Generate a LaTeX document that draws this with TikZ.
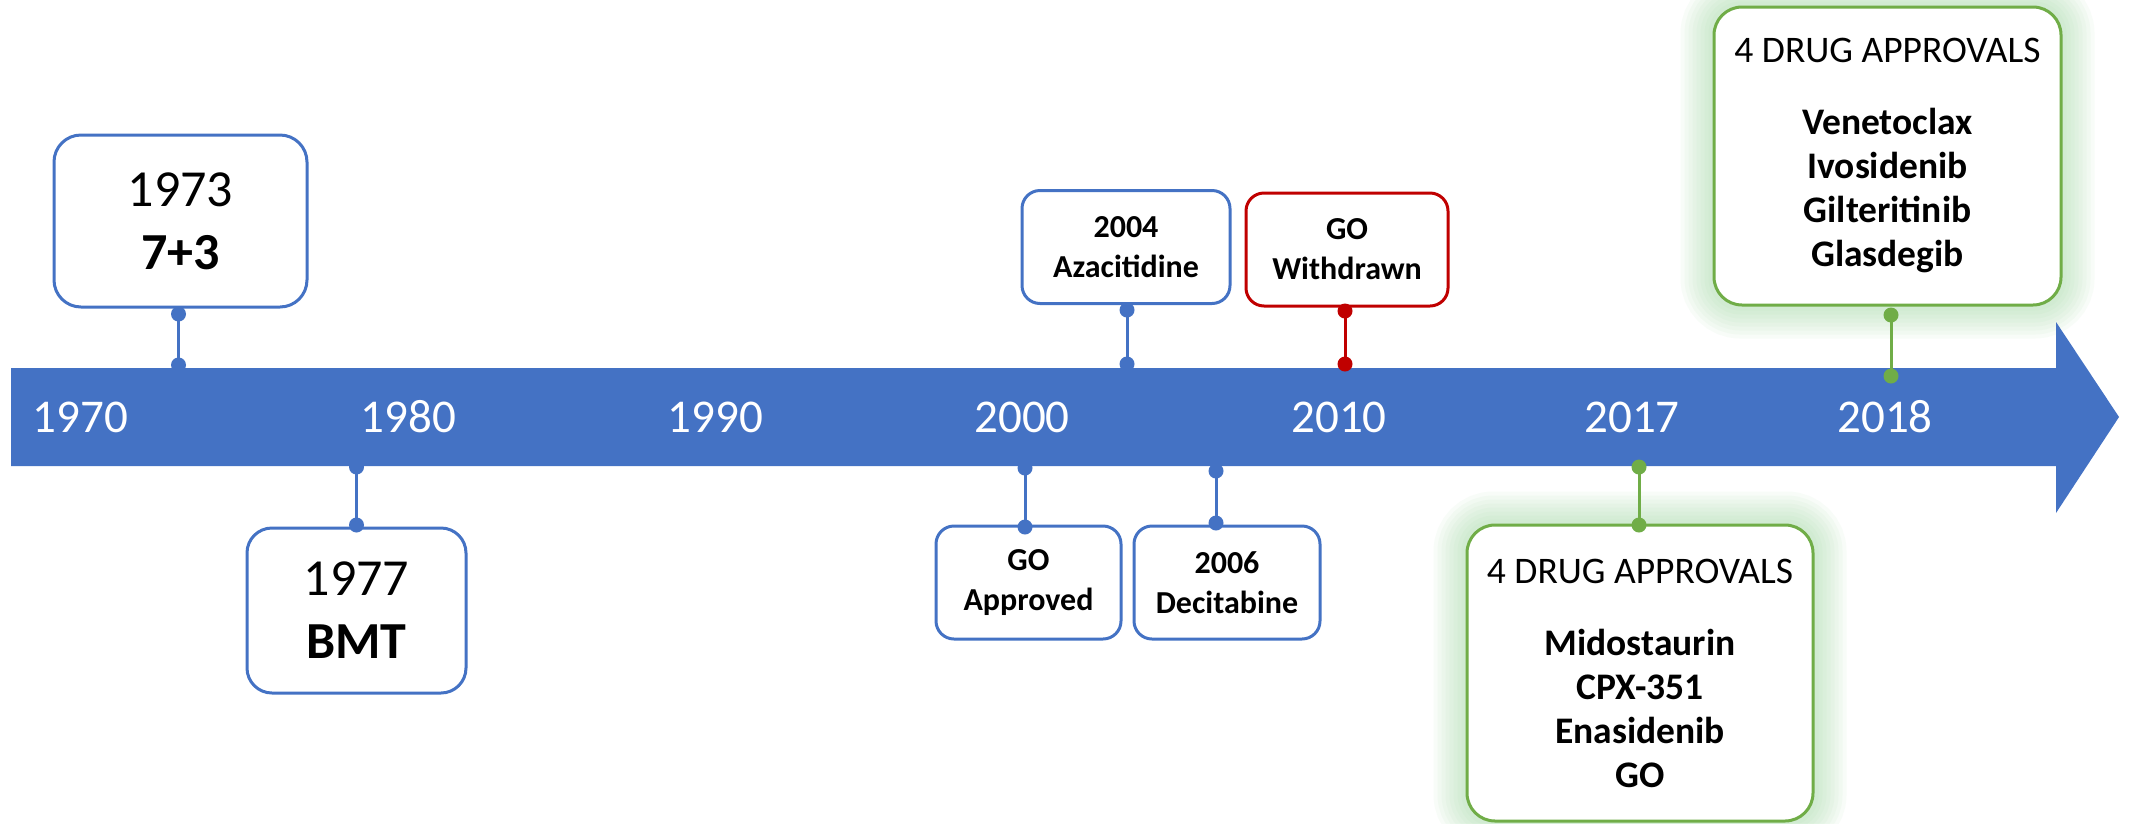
\documentclass[tikz,border=0pt]{standalone}
\usepackage{fontspec}
\setmainfont{Carlito}
\usetikzlibrary{backgrounds}
\definecolor{oblue}{HTML}{4472C4}
\definecolor{ored}{HTML}{C00000}
\definecolor{ogreen}{HTML}{70AD47}
\definecolor{glowc}{HTML}{9ED8A0}
\tikzset{
  evbox/.style={draw=oblue, line width=3pt, fill=white, rounded corners=#1, align=center, inner sep=0pt},
  bigtxt/.style={font=\fontsize{52}{63}\selectfont},
  smalltxt/.style={font=\bfseries\fontsize{32}{40}\selectfont},
  greentxt/.style={font=\fontsize{37.5}{44}\selectfont},
  yearlbl/.style={text=white, font=\fontsize{47}{56}\selectfont, inner sep=0pt},
  dotn/.style={circle, fill=#1, inner sep=0pt, minimum size=15pt},
  link/.style={draw=#1, line width=3pt},
}
\begin{document}
\begin{tikzpicture}[x=1pt, y=-1pt]
\useasboundingbox (0,0) rectangle (2131,823);
% timeline band
\fill[oblue] (11,368) -- (2056,368) -- (2056,322) -- (2119,417) -- (2056,513) -- (2056,466) -- (11,466) -- cycle;
% year labels
\node[yearlbl] (y1970) at (80.5,417) {1970};
\node[yearlbl] (y1980) at (408.5,417) {1980};
\node[yearlbl] (y1990) at (715.5,417) {1990};
\node[yearlbl] (y2000) at (1022,417) {2000};
\node[yearlbl] (y2010) at (1339,417) {2010};
\node[yearlbl] (y2017) at (1632,417) {2017};
\node[yearlbl] (y2018) at (1885,417) {2018};
% event boxes
\node[evbox=27pt, bigtxt, minimum width=253pt, minimum height=172pt] (b1973) at (180.5,221) {1973\\\textbf{7+3}};
\node[evbox=25pt, bigtxt, minimum width=219pt, minimum height=165pt] (b1977) at (356.5,610.5) {1977\\\textbf{BMT}};
\node[evbox=18pt, smalltxt, minimum width=208pt, minimum height=113pt] (b2004) at (1126,247) {2004\\Azacitidine};
\node[evbox=18pt, draw=ored, smalltxt, minimum width=202pt, minimum height=113pt] (bwd) at (1347,249.5) {GO\\Withdrawn};
\node[evbox=18pt, smalltxt, minimum width=185pt, minimum height=113pt] (bap) at (1028.5,582.5) {GO\\Approved};
\node[evbox=18pt, smalltxt, minimum width=186pt, minimum height=113pt] (b2006) at (1227,582.5) {2006\\Decitabine};
\node[evbox=28pt, draw=ogreen, greentxt, minimum width=346pt, minimum height=296pt] (b2017) at (1640,673) {4 DRUG APPROVALS\\[28pt]\textbf{Midostaurin}\\\textbf{CPX-351}\\\textbf{Enasidenib}\\\textbf{GO}};
\node[evbox=28pt, draw=ogreen, greentxt, minimum width=347pt, minimum height=298pt] (b2018) at (1887.5,156) {4 DRUG APPROVALS\\[28pt]\textbf{Venetoclax}\\\textbf{Ivosidenib}\\\textbf{Gilteritinib}\\\textbf{Glasdegib}};
% glow
\begin{scope}[on background layer]
\fill[white] (0,0) rectangle (2131,823);
\foreach \bx in {b2017,b2018}{
  \foreach \w in {8,16,...,64}{
    \draw[glowc, opacity=0.07, line width=\w pt, rounded corners=28pt] (\bx.south west) rectangle (\bx.north east);
  }
}
\end{scope}
% connectors
\node[dotn=oblue] (c1a) at (178.5,314) {};
\node[dotn=oblue] (c1b) at (178.5,365) {};
\draw[link=oblue] (c1a.center) -- (c1b.center);
\node[dotn=oblue] (c2a) at (356.5,467) {};
\node[dotn=oblue] (c2b) at (356.5,525) {};
\draw[link=oblue] (c2a.center) -- (c2b.center);
\node[dotn=oblue] (c3a) at (1127,310) {};
\node[dotn=oblue] (c3b) at (1127,364) {};
\draw[link=oblue] (c3a.center) -- (c3b.center);
\node[dotn=ored] (c4a) at (1345,311) {};
\node[dotn=ored] (c4b) at (1345,364) {};
\draw[link=ored] (c4a.center) -- (c4b.center);
\node[dotn=oblue] (c5a) at (1025,468) {};
\node[dotn=oblue] (c5b) at (1025,527) {};
\draw[link=oblue] (c5a.center) -- (c5b.center);
\node[dotn=oblue] (c6a) at (1216,471) {};
\node[dotn=oblue] (c6b) at (1216,523) {};
\draw[link=oblue] (c6a.center) -- (c6b.center);
\node[dotn=ogreen] (c7a) at (1639,467) {};
\node[dotn=ogreen] (c7b) at (1639,525) {};
\draw[link=ogreen] (c7a.center) -- (c7b.center);
\node[dotn=ogreen] (c8a) at (1891,315) {};
\node[dotn=ogreen] (c8b) at (1891,376) {};
\draw[link=ogreen] (c8a.center) -- (c8b.center);
\end{tikzpicture}
\end{document}
